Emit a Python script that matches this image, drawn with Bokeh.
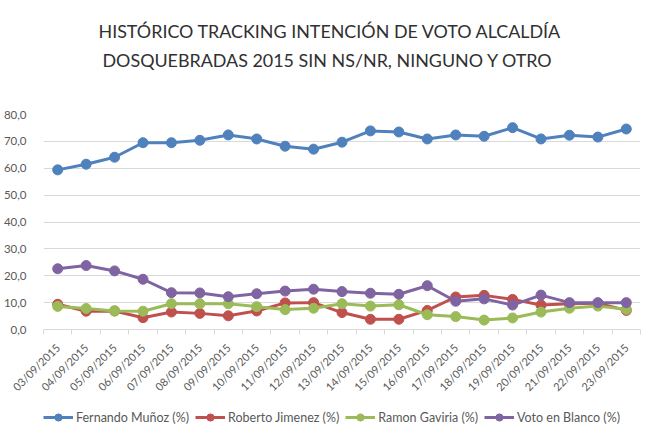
import math
from bokeh.plotting import figure
from bokeh.layouts import column
from bokeh.models import (Range1d, FixedTicker, Legend, LegendItem, ColumnDataSource, Title)
from bokeh.embed import file_html
from bokeh.resources import INLINE

dates = ["03/09/2015", "04/09/2015", "05/09/2015", "06/09/2015", "07/09/2015",
         "08/09/2015", "09/09/2015", "10/09/2015", "11/09/2015", "12/09/2015",
         "13/09/2015", "14/09/2015", "15/09/2015", "16/09/2015", "17/09/2015",
         "18/09/2015", "19/09/2015", "20/09/2015", "21/09/2015", "22/09/2015",
         "23/09/2015"]

fernando = [59.4, 61.5, 64.1, 69.5, 69.5, 70.4, 72.4, 70.9, 68.2, 67.1, 69.7,
            73.9, 73.5, 70.9, 72.4, 71.9, 75.1, 70.9, 72.3, 71.6, 74.6]
roberto = [9.4, 6.8, 6.9, 4.4, 6.5, 6.0, 5.1, 6.9, 9.9, 10.0, 6.3,
           3.8, 3.8, 7.1, 12.1, 12.7, 11.2, 9.1, 9.6, 9.8, 7.1]
ramon = [8.6, 7.8, 6.9, 6.8, 9.6, 9.6, 9.6, 8.5, 7.4, 7.9, 9.6,
         8.7, 9.2, 5.5, 4.8, 3.5, 4.3, 6.5, 7.9, 8.7, 7.5]
blanco = [22.6, 23.8, 21.8, 18.7, 13.7, 13.6, 12.2, 13.3, 14.3, 15.0, 14.1,
          13.5, 13.1, 16.3, 10.5, 11.4, 9.1, 12.8, 10.0, 10.0, 10.0]

series_names = ["Fernando Muñoz (%)", "Roberto Jimenez (%)", "Ramon Gaviria (%)", "Voto en Blanco (%)"]
series_vals = [fernando, roberto, ramon, blanco]
colors = ["#4F81BD", "#C0504D", "#9BBB59", "#8064A2"]

y_ticks = [0, 10, 20, 30, 40, 50, 60, 70, 80]
title_lines = ["HISTÓRICO TRACKING INTENCIÓN DE VOTO ALCALDÍA",
               "DOSQUEBRADAS 2015 SIN NS/NR, NINGUNO Y OTRO"]

FONT = "Lato"
GRAY = "#595959"

xs = list(range(len(dates)))

p = figure(width=660, height=400, output_backend="svg", toolbar_location=None,
           x_range=Range1d(-0.5, len(dates) - 0.5), y_range=Range1d(0, 80),
           min_border_left=42, min_border_right=20, min_border_top=114, min_border_bottom=71,
           title=None)

# spacer between frame and the two title lines
p.add_layout(Title(text=" ", text_font_size="1px", standoff=38), "above")
for txt, off in [(title_lines[1], 59), (title_lines[0], 55)]:
    t = Title(text=txt, align="left", text_font=FONT, text_font_size="17.9px",
              text_font_style="normal", text_color="#303030", standoff=5, offset=off)
    p.add_layout(t, "above")

p.outline_line_color = None
p.background_fill_color = "white"
p.border_fill_color = "white"

# grid
p.xgrid.grid_line_color = None
p.ygrid.ticker = FixedTicker(ticks=y_ticks)
p.ygrid.grid_line_color = "#D9D9D9"
p.ygrid.grid_line_width = 1

# y axis
p.yaxis.ticker = FixedTicker(ticks=y_ticks)
p.yaxis.major_label_overrides = {v: f"{v:.1f}".replace(".", ",") for v in y_ticks}
p.yaxis.axis_line_color = None
p.yaxis.major_tick_line_color = None
p.yaxis.minor_tick_line_color = None
p.yaxis.major_label_text_font = FONT
p.yaxis.major_label_text_font_size = "11.5px"
p.yaxis.major_label_text_color = GRAY
p.yaxis.major_label_standoff = 11

# x axis
p.xaxis.ticker = FixedTicker(ticks=xs, minor_ticks=[i - 0.5 for i in range(len(dates) + 1)])
p.xaxis.major_label_overrides = {i: d for i, d in enumerate(dates)}
p.xaxis.major_label_orientation = math.pi / 4
p.xaxis.axis_line_color = "#D9D9D9"
p.xaxis.major_tick_line_color = None
p.xaxis.minor_tick_line_color = "#D9D9D9"
p.xaxis.minor_tick_out = 5
p.xaxis.minor_tick_in = 0
p.xaxis.major_label_text_font = FONT
p.xaxis.major_label_text_font_size = "11px"
p.xaxis.major_label_text_color = GRAY
p.xaxis.major_label_standoff = 10

sources = []
for name, vals, c in zip(series_names, series_vals, colors):
    src = ColumnDataSource(dict(x=xs, y=vals))
    sources.append(src)
    p.line("x", "y", source=src, line_color=c, line_width=3)
    p.scatter("x", "y", source=src, size=10, fill_color=c, line_color=c)

# legend strip below the chart (its own view range lies outside the data, so only the legend shows)
lg = figure(width=660, height=27, output_backend="svg", toolbar_location=None,
            x_range=Range1d(-0.5, len(dates) - 0.5), y_range=Range1d(-20, -10),
            x_axis_location=None, y_axis_location=None,
            min_border=0, title=None)
lg.grid.visible = False
lg.outline_line_color = None
lg.border_fill_color = "white"
lg.background_fill_color = "white"

items = []
for name, src, c in zip(series_names, sources, colors):
    ln = lg.line("x", "y", source=src, line_color=c, line_width=3)
    sc = lg.scatter("x", "y", source=src, size=10, fill_color=c, line_color=c)
    items.append(LegendItem(label=name, renderers=[ln, sc]))

legend = Legend(items=items, orientation="horizontal", location=(0, 1),
                label_text_font=FONT, label_text_font_size="12.5px", label_text_color=GRAY,
                glyph_width=30, glyph_height=18, label_standoff=3, spacing=6,
                border_line_color=None, background_fill_alpha=0, margin=0, padding=0)
lg.add_layout(legend, "center")

layout = column(p, lg, spacing=0)
open("out.html", "w").write(file_html(layout, INLINE))
